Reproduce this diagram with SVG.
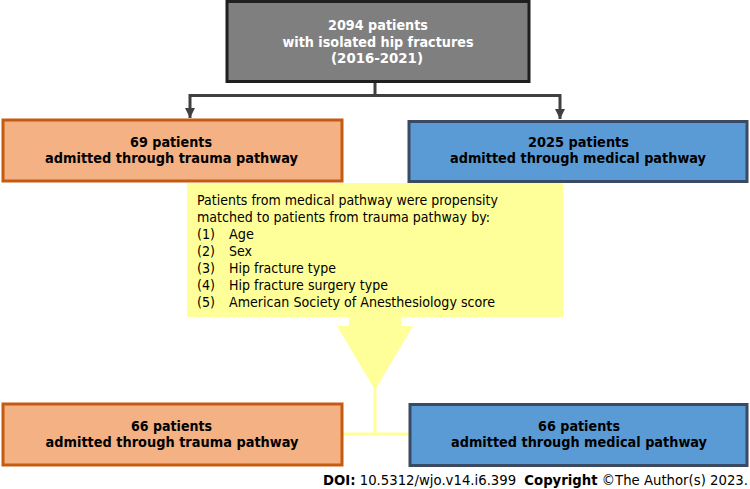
<svg xmlns="http://www.w3.org/2000/svg" width="750" height="489" viewBox="0 0 750 489">
<defs>
<style>
.t{font-family:"DejaVu Sans","Verdana",sans-serif;}
.b{font-weight:bold;font-size:14px;text-anchor:middle;}
.w{fill:#ffffff;}
.k{fill:#000000;}
.r{font-size:13.5px;fill:#000000;}
.org{fill:#F4B183;stroke:#C55A11;stroke-width:3;}
.blu{fill:#5B9BD5;stroke:#3A4A63;stroke-width:3;}
.con{fill:none;stroke:#404040;stroke-width:3;}
.yel{fill:#FFFF99;}
</style>
<marker id="ah" viewBox="0 0 10 10" refX="10" refY="5" markerWidth="3.4" markerHeight="3.4" orient="auto" markerUnits="strokeWidth">
<path d="M0,0 L10,5 L0,10 z" fill="#404040"/>
</marker>
</defs>
<rect width="750" height="489" fill="#ffffff"/>

<g id="connectors">
<path class="con" d="M375,82 V95.5 H190 V118" marker-end="url(#ah)"/>
<path class="con" d="M375,95.5 H560 V119" marker-end="url(#ah)"/>
<rect class="yel" x="373.5" y="388" width="3" height="47"/>
<rect class="yel" x="342" y="432.5" width="68" height="3"/>
</g>

<g id="top">
<rect x="227" y="1.5" width="302" height="80" fill="#7F7F7F" stroke="#1F1F1F" stroke-width="3"/>
<text class="t b w" x="378" y="30" textLength="100" lengthAdjust="spacingAndGlyphs">2094 patients</text>
<text class="t b w" x="378" y="47" textLength="191" lengthAdjust="spacingAndGlyphs">with isolated hip fractures</text>
<text class="t b w" x="377" y="63" textLength="92" lengthAdjust="spacingAndGlyphs">(2016-2021)</text>
</g>

<g id="trauma1">
<rect class="org" x="3" y="120" width="339" height="61"/>
<text class="t b k" x="171" y="147" textLength="82" lengthAdjust="spacingAndGlyphs">69 patients</text>
<text class="t b k" x="171.5" y="163" textLength="253" lengthAdjust="spacingAndGlyphs">admitted through trauma pathway</text>
</g>

<g id="medical1">
<rect class="blu" x="409" y="121.5" width="338" height="60"/>
<text class="t b k" x="578.5" y="147" textLength="101" lengthAdjust="spacingAndGlyphs">2025 patients</text>
<text class="t b k" x="578" y="163" textLength="256" lengthAdjust="spacingAndGlyphs">admitted through medical pathway</text>
</g>

<g id="matching">
<rect class="yel" x="187" y="183" width="376" height="134"/>
<polygon class="yel" points="349,316 401,316 401,326 413,326 375,390 337,326 349,326"/>
<text class="t r" x="197" y="205" textLength="301" lengthAdjust="spacingAndGlyphs">Patients from medical pathway were propensity</text>
<text class="t r" x="197" y="222" textLength="293" lengthAdjust="spacingAndGlyphs">matched to patients from trauma pathway by:</text>
<text class="t r" x="197" y="239" textLength="18" lengthAdjust="spacingAndGlyphs">(1)</text><text class="t r" x="229" y="239" textLength="25" lengthAdjust="spacingAndGlyphs">Age</text>
<text class="t r" x="197" y="256" textLength="18" lengthAdjust="spacingAndGlyphs">(2)</text><text class="t r" x="229" y="256" textLength="23" lengthAdjust="spacingAndGlyphs">Sex</text>
<text class="t r" x="197" y="273" textLength="18" lengthAdjust="spacingAndGlyphs">(3)</text><text class="t r" x="229" y="273" textLength="107" lengthAdjust="spacingAndGlyphs">Hip fracture type</text>
<text class="t r" x="197" y="290" textLength="18" lengthAdjust="spacingAndGlyphs">(4)</text><text class="t r" x="229" y="290" textLength="159" lengthAdjust="spacingAndGlyphs">Hip fracture surgery type</text>
<text class="t r" x="197" y="307" textLength="18" lengthAdjust="spacingAndGlyphs">(5)</text><text class="t r" x="229" y="307" textLength="266" lengthAdjust="spacingAndGlyphs">American Society of Anesthesiology score</text>
</g>

<g id="trauma2">
<rect class="org" x="3" y="404" width="339" height="61"/>
<text class="t b k" x="171.5" y="431" textLength="81" lengthAdjust="spacingAndGlyphs">66 patients</text>
<text class="t b k" x="172" y="447" textLength="253" lengthAdjust="spacingAndGlyphs">admitted through trauma pathway</text>
</g>

<g id="medical2">
<rect class="blu" x="410" y="404.5" width="337" height="61"/>
<text class="t b k" x="579" y="431" textLength="82" lengthAdjust="spacingAndGlyphs">66 patients</text>
<text class="t b k" x="579" y="447" textLength="256" lengthAdjust="spacingAndGlyphs">admitted through medical pathway</text>
</g>

<text class="t" x="748" y="485" text-anchor="end" font-size="13.5" fill="#000000" textLength="425" lengthAdjust="spacingAndGlyphs"><tspan font-weight="bold">DOI:</tspan> 10.5312/wjo.v14.i6.399 <tspan dx="4" font-weight="bold">Copyright</tspan> ©The Author(s) 2023.</text>
</svg>
